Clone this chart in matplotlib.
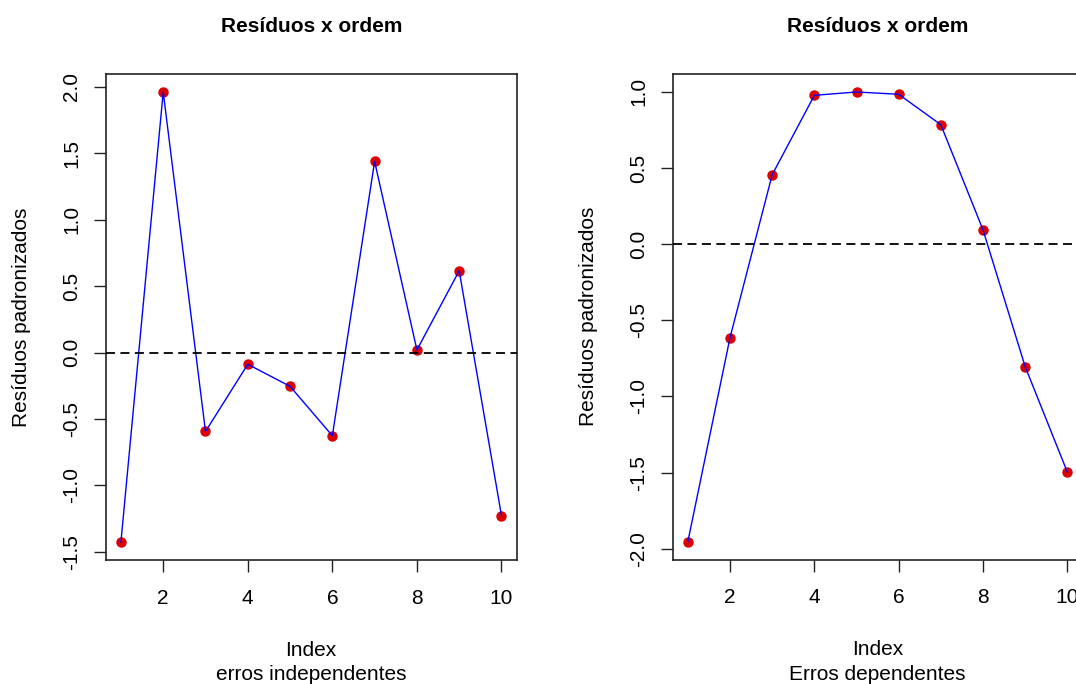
import numpy as np
from matplotlib import pyplot as plt

plt.rcParams['font.family'] = ['Liberation Sans', 'DejaVu Sans']

# dados
idx = np.arange(1, 11)
res_indep = [-1.426, 1.962, -0.594, -0.088, -0.254, -0.626, 1.439, 0.020, 0.616, -1.227]
res_dep = [-1.952, -0.613, 0.456, 0.977, 0.999, 0.984, 0.784, 0.094, -0.804, -1.496]

titulo = 'Resíduos x ordem'
ylab = 'Resíduos padronizados'
subs = ['erros independentes', 'Erros dependentes']
yticks = [np.arange(-1.5, 2.01, 0.5), np.arange(-2.0, 1.01, 0.5)]

W, H = 1076, 684
fig = plt.figure(figsize=(W / 100, H / 100), dpi=100)

# caixas em pixels (x0, y0 do topo, x1, y1)
boxes = [(105.7, 74, 516.7, 560), (672.7, 74, 1082.5, 559.5)]

for box, res, sub, yt in zip(boxes, [res_indep, res_dep], subs, yticks):
    x0, y0, x1, y1 = box
    ax = fig.add_axes([x0 / W, (H - y1) / H, (x1 - x0) / W, (y1 - y0) / H])
    ax.plot(idx, res, 'o', color='#dd0000', markersize=6.5, zorder=2)
    ax.plot(idx, res, color='blue', lw=1.0, zorder=3)
    ax.axhline(0, color='black', lw=1.3, dashes=(5, 3), zorder=4)
    ax.margins(x=0.04, y=0.04)

    ax.set_xticks([2, 4, 6, 8, 10])
    ax.set_yticks(yt)
    ax.set_yticklabels(['%.1f' % v for v in yt], rotation=90, va='center')
    ax.tick_params(axis='both', labelsize=15, length=8.6, width=1.0, color='#222222')
    ax.tick_params(axis='x', pad=12)
    ax.tick_params(axis='y', pad=9)
    for s in ax.spines.values():
        s.set_linewidth(1.2)
        s.set_color('#222222')

    ax.set_title(titulo, fontsize=15, fontweight='bold', pad=30)
    ax.set_xlabel('Index\n' + sub, fontsize=15, labelpad=24, linespacing=1.35)
    ax.set_ylabel(ylab, fontsize=15, va='center')
    ax.yaxis.set_label_coords(-84 / (x1 - x0), 0.5)

fig.savefig('out.png', dpi=100)
